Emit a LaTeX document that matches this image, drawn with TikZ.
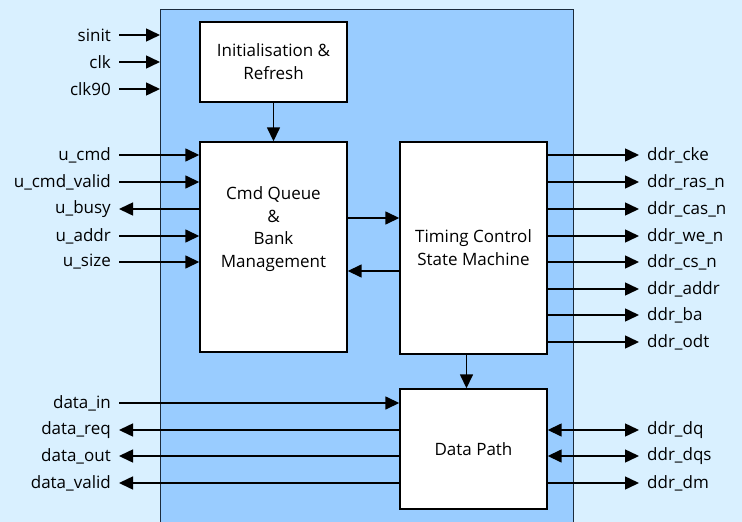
\documentclass[tikz,border=0pt]{standalone}
\usepackage{fontspec}
\setmainfont{Open Sans}
\usetikzlibrary{arrows.meta,positioning,calc}
\definecolor{bgpale}{HTML}{D9F0FF}
\definecolor{corefill}{HTML}{99CCFF}
\definecolor{coreline}{HTML}{1C2B3C}

\begin{document}
\begin{tikzpicture}[x=1pt,y=-1pt,
  blk/.style={draw=black, fill=white, line width=1.4pt, inner sep=0pt,
    font=\fontsize{17}{23}\selectfont, align=center},
  sig/.style={font=\fontsize{17}{20}\selectfont, inner xsep=8pt, inner ysep=0pt},
  wire/.style={line width=1.5pt, -{Triangle[length=14pt,width=13pt]}},
  biwire/.style={line width=1.5pt, {Triangle[length=14pt,width=13pt]}-{Triangle[length=14pt,width=13pt]}},
]
% canvas and core block
\fill[bgpale] (0,0) rectangle (742,522);
\useasboundingbox (0,0) rectangle (742,522);
\draw[coreline, fill=corefill, line width=0.9pt] (160,530) -- (160,9.5) -- (573.5,9.5) -- (573.5,530);

% inner blocks
\node[blk, minimum width=147pt, minimum height=80pt] (init) at (273.5,62) {};
\node[font=\fontsize{17}{23}\selectfont, align=center] (initt) at (init) {Initialisation \&\\Refresh};
\node[blk, minimum width=147pt, minimum height=210pt] (cmdq) at (273.5,247) {};
\node[font=\fontsize{17}{22.5}\selectfont, align=center] (cmdqt) at (273.5,229) {Cmd Queue\\\&\\Bank\\Management};
\node[blk, minimum width=147pt, minimum height=212pt] (tcsm) at (473.5,248) {Timing Control\\State Machine};
\node[blk, minimum width=147pt, minimum height=120pt] (dpath) at (473.5,449) {Data Path};

% internal links
\draw[wire] (init.south) -- (cmdq.north);
\draw[wire] (cmdq.east |- 0,218) -- (tcsm.west |- 0,218);
\draw[wire] (tcsm.west |- 0,271) -- (cmdq.east |- 0,271);
\coordinate (tcb) at (466.5,354);
\draw[wire] (tcb) -- (tcb |- dpath.north);

% clocks into the core
\foreach \nm/\txt/\y in {sinit/sinit/35, clk/clk/62, clkn/clk90/89} {
  \node[sig, anchor=east] (\nm) at (119,\y) {\txt};
  \draw[wire] (\nm.east) -- (160,\y);
}

% user side of the queue
\foreach \nm/\txt/\y in {ucmd/u\_cmd/155, ucmdv/u\_cmd\_valid/182, uaddr/u\_addr/236, usize/u\_size/262} {
  \node[sig, anchor=east] (\nm) at (119,\y) {\txt};
  \draw[wire] (\nm.east) -- (\nm.east -| cmdq.west);
}
\node[sig, anchor=east] (ubusy) at (119,209) {u\_busy};
\draw[wire] (ubusy.east -| cmdq.west) -- (ubusy.east);

% ddr control outputs
\foreach \nm/\txt/\y in {cke/ddr\_cke/155, ras/ddr\_ras\_n/182, cas/ddr\_cas\_n/209, we/ddr\_we\_n/236,
  cs/ddr\_cs\_n/262, addr/ddr\_addr/289, ba/ddr\_ba/315, odt/ddr\_odt/342} {
  \node[sig, anchor=west] (\nm) at (639,\y) {\txt};
  \draw[wire] (\nm.west -| tcsm.east) -- (\nm.west);
}

% data path
\node[sig, anchor=east] (din) at (119,403) {data\_in};
\draw[wire] (din.east) -- (din.east -| dpath.west);
\foreach \nm/\txt/\y in {dreq/data\_req/430, dout/data\_out/456, dval/data\_valid/483} {
  \node[sig, anchor=east] (\nm) at (119,\y) {\txt};
  \draw[wire] (\nm.east -| dpath.west) -- (\nm.east);
}
\foreach \nm/\txt/\y in {dq/ddr\_dq/430, dqs/ddr\_dqs/456} {
  \node[sig, anchor=west] (\nm) at (639,\y) {\txt};
  \draw[biwire] (\nm.west -| dpath.east) -- (\nm.west);
}
\node[sig, anchor=west] (dm) at (639,483) {ddr\_dm};
\draw[wire] (dm.west -| dpath.east) -- (dm.west);
\end{tikzpicture}
\end{document}
